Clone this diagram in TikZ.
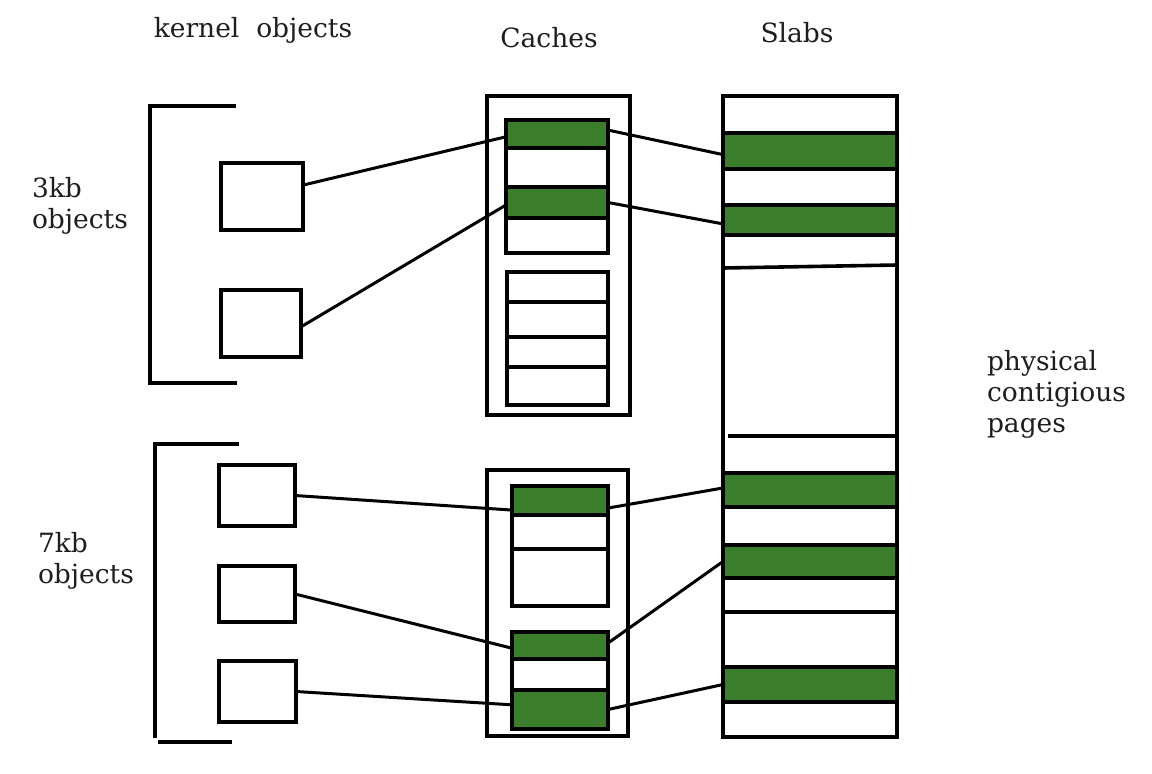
\documentclass[tikz,border=0pt]{standalone}
\usepackage{fontspec}
\setmainfont{DejaVu Serif}
\usetikzlibrary{calc}
\definecolor{slabgreen}{RGB}{58,125,42}
\definecolor{inkgray}{RGB}{30,30,30}
\newcommand\rbox[6][]{\node[box,#1,minimum width={(#5-#3)*1pt},minimum height={(#6-#4)*1pt}] (#2) at (#3,#4) {};}
\begin{document}
\begin{tikzpicture}[x=1pt,y=-1pt,
  box/.style={draw,line width=3.6pt,inner sep=0pt,outer sep=0pt,anchor=north west},
  green/.style={fill=slabgreen},
  rule/.style={line width=3.6pt},
  link/.style={line width=3pt},
  lab/.style={inner sep=0pt,outer sep=0pt,text=inkgray,font=\fontsize{26.5}{31}\selectfont}]
\useasboundingbox (0,0) rectangle (1152,774);
% brackets
\draw[rule] (236,106) -- (150,106) -- (150,383) -- (237,383);
\draw[rule] (239,444) -- (155,444) -- (155,738);
\draw[rule] (158,742) -- (232,742);
% kernel objects
\rbox{k1}{221}{163}{303}{230}
\rbox{k2}{221}{290}{301}{357}
\rbox{k3}{219}{465}{295}{526}
\rbox{k4}{219}{566}{295}{622}
\rbox{k5}{219}{661}{296}{722}
% cache 1
\rbox{cacheA}{487}{96}{630}{415}
\rbox[green]{a1}{506}{120}{608}{148}
\rbox{a2}{506}{148}{608}{187}
\rbox[green]{a3}{506}{187}{608}{218}
\rbox{a4}{506}{218}{608}{253}
\rbox{b1}{507}{272}{608}{302}
\rbox{b2}{507}{302}{608}{337}
\rbox{b3}{507}{337}{608}{367}
\rbox{b4}{507}{367}{608}{405}
% cache 2
\rbox{cacheB}{487}{470}{628}{736}
\rbox[green]{c1}{512}{486}{608}{515}
\rbox{c2}{512}{515}{608}{549}
\rbox{c3}{512}{549}{608}{606}
\rbox[green]{d1}{512}{632}{608}{659}
\rbox{d2}{512}{659}{608}{690}
\rbox[green]{d3}{512}{690}{608}{729}
% slabs
\rbox{slab}{723}{96}{897}{737}
\rbox[green]{s1}{723}{133}{897}{169}
\rbox[green]{s2}{723}{205}{897}{235}
\rbox[green]{s3}{723}{473}{897}{507}
\rbox[green]{s4}{723}{545}{897}{578}
\rbox[green]{s5}{723}{667}{897}{702}
\draw[rule] (slab.west |- 0,268) -- (slab.east |- 0,265);
\draw[rule] (728,436) -- (slab.east |- 0,436);
\draw[rule] (slab.west |- 0,612) -- (slab.east |- 0,612);
% connectors
\draw[link] ($(k1.north east)!0.33!(k1.south east)$) -- ($(a1.north west)!0.6!(a1.south west)$);
\draw[link] ($(k2.north east)!0.55!(k2.south east)$) -- ($(a3.north west)!0.58!(a3.south west)$);
\draw[link] ($(a1.north east)!0.36!(a1.south east)$) -- ($(s1.north west)!0.6!(s1.south west)$);
\draw[link] (a3.east) -- ($(s2.north west)!0.63!(s2.south west)$);
\draw[link] (k3.east) -- ($(c1.north west)!0.83!(c1.south west)$);
\draw[link] (k4.east) -- ($(d1.north west)!0.6!(d1.south west)$);
\draw[link] (k5.east) -- ($(d3.north west)!0.38!(d3.south west)$);
\draw[link] ($(c1.north east)!0.76!(c1.south east)$) -- ($(s3.north west)!0.44!(s3.south west)$);
\draw[link] ($(d1.north east)!0.41!(d1.south east)$) -- (s4.west);
\draw[link] (d3.east) -- (s5.west);
% labels
\node[lab,anchor=base] (tk) at (253,37) {kernel\ \ objects};
\node[lab,anchor=base] (tc) at (549,47) {Caches};
\node[lab,anchor=base] (ts) at (797,42) {Slabs};
\node[lab,anchor=base west,align=left] (t3) at (32,228) {3kb\\objects};
\node[lab,anchor=base west,align=left] (t7) at (38,583) {7kb\\objects};
\node[lab,anchor=base west,align=left] (tp) at (987,432) {physical\\contigious\\pages};
\end{tikzpicture}
\end{document}
